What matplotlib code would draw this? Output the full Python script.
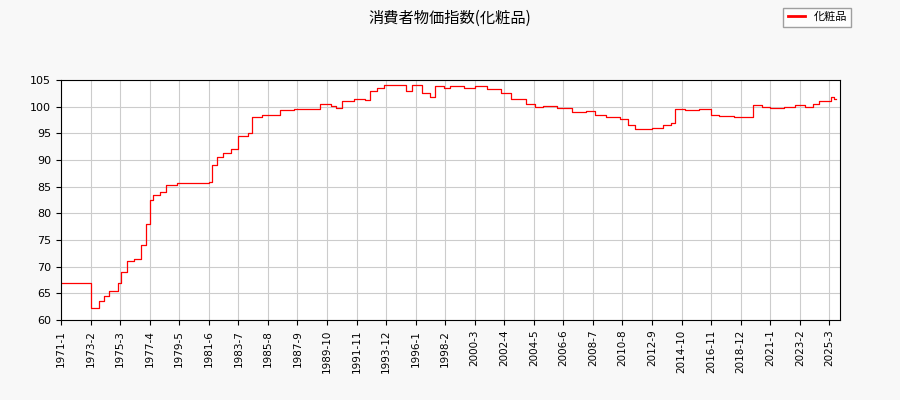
import numpy as np
import pandas as pd
import matplotlib
matplotlib.use("Agg")
import matplotlib.pyplot as plt
from matplotlib.lines import Line2D

plt.rcParams['font.family'] = ['Noto Sans CJK JP', 'DejaVu Sans']

# step changes (month, index value)
months = ["1971-01", "1973-02", "1973-09", "1974-01", "1974-06", "1975-01", "1975-04",
          "1975-09", "1976-03", "1976-09", "1977-01", "1977-04", "1977-07", "1978-01",
          "1978-06", "1979-03", "1981-06", "1981-09", "1982-01", "1982-06", "1983-01",
          "1983-07", "1984-03", "1984-07", "1985-03", "1986-06", "1987-06", "1989-04",
          "1990-01", "1990-06", "1990-11", "1991-09", "1992-06", "1992-10", "1993-04",
          "1993-10", "1995-05", "1995-10", "1996-06", "1997-01", "1997-05", "1998-01",
          "1998-06", "1999-06", "2000-03", "2001-01", "2002-01", "2002-10", "2003-10",
          "2004-06", "2005-01", "2006-01", "2007-01", "2008-01", "2008-09", "2009-06",
          "2010-06", "2011-01", "2011-07", "2012-09", "2013-06", "2014-01", "2014-04",
          "2015-01", "2016-01", "2016-11", "2017-06", "2018-06", "2019-10", "2020-06",
          "2021-01", "2022-01", "2022-10", "2023-06", "2024-01", "2024-06", "2025-04",
          "2025-07", "2025-09"]
values = [67.0, 62.3, 63.5, 64.5, 65.5, 67.0, 69.0,
          71.0, 71.5, 74.0, 78.0, 82.5, 83.5, 84.0,
          85.3, 85.7, 85.8, 89.0, 90.5, 91.3, 92.0,
          94.5, 95.0, 98.0, 98.5, 99.3, 99.6, 100.5,
          100.2, 99.7, 101.0, 101.5, 101.3, 103.0, 103.5,
          104.0, 103.0, 104.0, 102.5, 101.8, 103.8, 103.5,
          103.8, 103.5, 103.8, 103.3, 102.5, 101.5, 100.5,
          100.0, 100.2, 99.7, 99.0, 99.2, 98.5, 98.0,
          97.7, 96.5, 95.8, 96.0, 96.5, 97.0, 99.5,
          99.3, 99.5, 98.5, 98.3, 98.1, 100.3, 100.0,
          99.8, 100.0, 100.3, 100.0, 100.5, 101.0, 101.8,
          101.5, 101.5]

# month index from 1971-01
def midx(s):
    y, m = s.split("-")
    return (int(y) - 1971) * 12 + int(m) - 1

x = [midx(s) for s in months]

tick_pos = list(range(0, 660, 25))
tick_lab = []
for p in tick_pos:
    tick_lab.append("%d-%d" % (1971 + p // 12, p % 12 + 1))

fig = plt.figure(figsize=(9, 4), dpi=100, facecolor="#f8f8f8")
ax = fig.add_axes([61/900, 0.2, (840-61)/900, 0.6])
ax.plot(x, values, drawstyle="steps-post", color="red", lw=0.9)
ax.set_xlim(0, 659)
ax.set_ylim(60, 105)
ax.set_yticks(range(60, 106, 5))
ax.set_xticks(tick_pos)
ax.set_xticklabels(tick_lab, rotation=90, fontsize=7.5, family="DejaVu Sans")
for t in ax.get_yticklabels():
    t.set_family("DejaVu Sans")
ax.tick_params(axis="y", labelsize=8)
ax.grid(True, color="#cccccc", lw=0.8)
ax.set_axisbelow(True)
fig.suptitle("消費者物価指数(化粧品)", x=0.5, y=0.975, fontsize=11)
fig.legend([Line2D([], [], color="red", lw=2)], ["化粧品"], loc="upper right",
           bbox_to_anchor=(0.952, 0.995), fontsize=8, handlelength=1.5,
           fancybox=False, edgecolor="#888888")
fig.savefig("out.png", facecolor=fig.get_facecolor())
